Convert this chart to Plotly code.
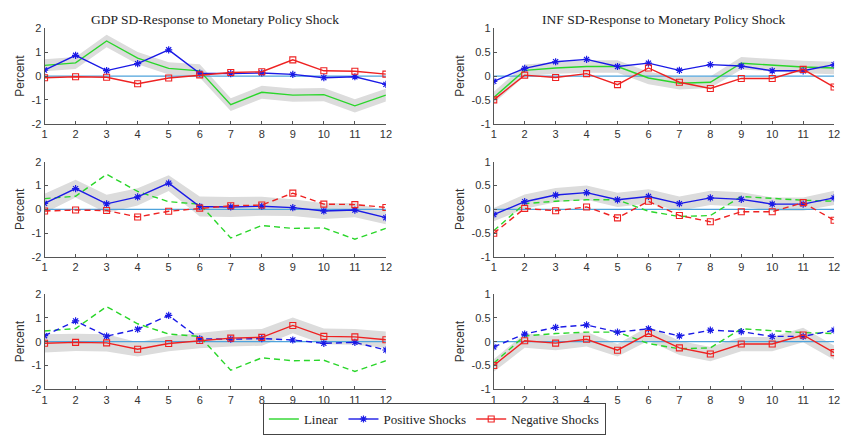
import plotly.graph_objects as go

horizon = list(range(1, 13))

# GDP responses
gdp_linear = [0.45, 0.55, 1.47, 0.75, 0.32, 0.22, -1.20, -0.68, -0.80, -0.78, -1.25, -0.80]
gdp_positive = [0.25, 0.87, 0.23, 0.52, 1.10, 0.12, 0.10, 0.13, 0.07, -0.07, -0.03, -0.35]
gdp_negative = [-0.07, -0.03, -0.05, -0.32, -0.08, 0.05, 0.15, 0.18, 0.68, 0.22, 0.20, 0.08]
gdp_linear_band = [0.25, 0.25, 0.26, 0.26, 0.26, 0.28, 0.27, 0.27, 0.28, 0.28, 0.28, 0.27]
gdp_positive_band = [0.40, 0.37, 0.38, 0.36, 0.33, 0.42, 0.42, 0.40, 0.35, 0.33, 0.30, 0.28]
gdp_negative_band = [0.38, 0.36, 0.36, 0.30, 0.32, 0.33, 0.35, 0.35, 0.33, 0.33, 0.33, 0.35]

# INF responses
inf_linear = [-0.45, 0.12, 0.17, 0.20, 0.20, -0.04, -0.15, -0.13, 0.27, 0.23, 0.19, 0.17]
inf_positive = [-0.11, 0.16, 0.30, 0.35, 0.20, 0.27, 0.12, 0.24, 0.21, 0.11, 0.11, 0.24]
inf_negative = [-0.50, 0.02, -0.03, 0.05, -0.18, 0.17, -0.13, -0.26, -0.05, -0.05, 0.14, -0.23]
inf_linear_band = [0.12, 0.12, 0.12, 0.13, 0.13, 0.13, 0.13, 0.12, 0.13, 0.13, 0.13, 0.13]
inf_positive_band = [0.14, 0.15, 0.15, 0.15, 0.15, 0.15, 0.15, 0.15, 0.15, 0.14, 0.14, 0.15]
inf_negative_band = [0.13, 0.15, 0.15, 0.15, 0.13, 0.15, 0.15, 0.15, 0.15, 0.15, 0.15, 0.15]

titles = ["GDP SD-Response to Monetary Policy Shock", "INF SD-Response to Monetary Policy Shock"]
legend_names = ["Linear", "Positive Shocks", "Negative Shocks"]

GREEN = "#2ad62a"
BLUE = "#1a1ae6"
RED = "#ee2222"
BAND = "#dcdcdc"
ZERO = "#4ea3dc"
AXC = "#555555"
DASH = "6px,4px"

x_domains = [[42 / 849, 387 / 849], [496 / 849, 840 / 849]]
y_domains = [[1 - 121 / 443, 1 - 23 / 443], [1 - 258 / 443, 1 - 160 / 443], [1 - 394 / 443, 1 - 296 / 443]]

data = {
    0: dict(lin=gdp_linear, pos=gdp_positive, neg=gdp_negative,
            bands=[gdp_linear_band, gdp_positive_band, gdp_negative_band], rng=[-2, 2], ticks=[-2, -1, 0, 1, 2]),
    1: dict(lin=inf_linear, pos=inf_positive, neg=inf_negative,
            bands=[inf_linear_band, inf_positive_band, inf_negative_band], rng=[-1, 1], ticks=[-1, -0.5, 0, 0.5, 1]),
}

fig = go.Figure()
layout = {}
idx = 0
for row in range(3):
    for col in range(2):
        idx += 1
        xa = "x" if idx == 1 else f"x{idx}"
        ya = "y" if idx == 1 else f"y{idx}"
        d = data[col]
        series = [d["lin"], d["pos"], d["neg"]]
        center = series[row]
        half = d["bands"][row]
        upper = [c + h for c, h in zip(center, half)]
        lower = [c - h for c, h in zip(center, half)]
        fig.add_trace(go.Scatter(x=horizon + horizon[::-1], y=upper + lower[::-1], fill="toself",
                                 fillcolor=BAND, line=dict(width=0), mode="lines", hoverinfo="skip",
                                 showlegend=False, xaxis=xa, yaxis=ya))
        fig.add_trace(go.Scatter(x=[horizon[0], horizon[-1]], y=[0, 0], mode="lines",
                                 line=dict(color=ZERO, width=1.3), showlegend=False, xaxis=xa, yaxis=ya))
        solid = [row == 0, row in (0, 1), row in (0, 2)]
        fig.add_trace(go.Scatter(x=horizon, y=d["lin"], mode="lines", name=legend_names[0],
                                 line=dict(color=GREEN, width=1.4, dash="solid" if solid[0] else DASH),
                                 showlegend=(idx == 1), xaxis=xa, yaxis=ya))
        fig.add_trace(go.Scatter(x=horizon, y=d["pos"], mode="lines+markers", name=legend_names[1],
                                 line=dict(color=BLUE, width=1.4, dash="solid" if solid[1] else DASH),
                                 marker=dict(symbol="asterisk-open", size=6, color=BLUE, line=dict(color=BLUE, width=1.2)),
                                 showlegend=(idx == 1), xaxis=xa, yaxis=ya))
        fig.add_trace(go.Scatter(x=horizon, y=d["neg"], mode="lines+markers", name=legend_names[2],
                                 line=dict(color=RED, width=1.4, dash="solid" if solid[2] else DASH),
                                 marker=dict(symbol="square-open", size=6, color=RED, line=dict(color=RED, width=1.1)),
                                 showlegend=(idx == 1), xaxis=xa, yaxis=ya))
        xkey = "xaxis" if idx == 1 else f"xaxis{idx}"
        ykey = "yaxis" if idx == 1 else f"yaxis{idx}"
        layout[xkey] = dict(domain=x_domains[col], anchor=ya, range=[1, 12], tickvals=horizon,
                            ticks="inside", ticklen=3, tickcolor=AXC, showline=True, linecolor=AXC,
                            linewidth=1, showgrid=False, zeroline=False,
                            tickfont=dict(family="Liberation Sans, Arial", size=11, color="#333333"))
        layout[ykey] = dict(domain=y_domains[row], anchor=xa, range=d["rng"], tickvals=d["ticks"],
                            ticktext=[("%g" % t) for t in d["ticks"]],
                            ticks="inside", ticklen=3, tickcolor=AXC, showline=True, linecolor=AXC,
                            linewidth=1, showgrid=False, zeroline=False,
                            title=dict(text="Percent", standoff=4,
                                       font=dict(family="Liberation Sans, Arial", size=12, color="#333333")),
                            tickfont=dict(family="Liberation Sans, Arial", size=11, color="#333333"))

annotations = []
for col in range(2):
    xc = (x_domains[col][0] + x_domains[col][1]) / 2
    annotations.append(dict(text=titles[col], x=xc, y=1 - 14 / 443, xref="paper", yref="paper",
                            xanchor="center", yanchor="middle", showarrow=False,
                            font=dict(family="Liberation Serif, Times New Roman", size=13.5, color="#222222")))

fig.update_layout(
    width=849, height=443, margin=dict(l=0, r=0, t=0, b=0),
    paper_bgcolor="white", plot_bgcolor="white",
    annotations=annotations,
    showlegend=True,
    legend=dict(orientation="h", x=436 / 849, xanchor="center", y=1 - 441 / 443, yanchor="bottom",
                bordercolor="#444444", borderwidth=1, bgcolor="white",
                font=dict(family="Liberation Serif, Times New Roman", size=13, color="#222222"),
                itemwidth=30, tracegroupgap=0),
    **layout,
)

fig.write_html("out.html")
